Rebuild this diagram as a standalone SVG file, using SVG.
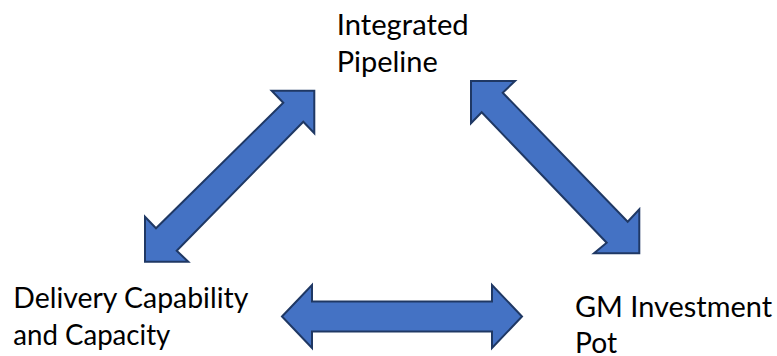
<svg xmlns="http://www.w3.org/2000/svg" width="777" height="356" viewBox="0 0 777 356">
  <style>
    .arrow { fill: #4472C4; stroke: #1F3864; stroke-width: 2; stroke-linejoin: miter; }
    .label { font-family: Lato, "Open Sans", "Liberation Sans", sans-serif; font-size: 28px; fill: #000000; }
  </style>
  <rect width="777" height="356" fill="#ffffff"/>

  <!-- double-headed block arrows linking the three nodes -->
  <g id="connectors">
    <polygon class="arrow" points="314.3,90.7 314.3,133.3 303.3,121.7 176.7,250.7 188.3,261.7 145,261.7 145,216.7 156,228.3 283.3,102.7 271.7,90.7"/>
    <polygon class="arrow" points="471,81 515,81 502.7,92.7 627.7,221.7 639.3,209.3 639.3,253.3 594,253.3 606.7,242.7 481.7,112.3 471,123.3"/>
    <polygon class="arrow" points="282,316.5 312,285 312,301.5 492,301.5 492,285 522,316.5 492,348 492,331.5 312,331.5 312,348"/>
  </g>

  <g id="integrated-pipeline">
    <text class="label" x="336.7" y="35" textLength="132" lengthAdjust="spacingAndGlyphs">Integrated</text>
    <text class="label" x="336.7" y="71.7" textLength="101" lengthAdjust="spacingAndGlyphs">Pipeline</text>
  </g>

  <g id="delivery-capability">
    <text class="label" x="13.3" y="308.3" textLength="235" lengthAdjust="spacingAndGlyphs">Delivery Capability</text>
    <text class="label" x="13.3" y="344.5" textLength="157" lengthAdjust="spacingAndGlyphs">and Capacity</text>
  </g>

  <g id="gm-investment-pot">
    <text class="label" x="575" y="316.7" textLength="197" lengthAdjust="spacingAndGlyphs">GM Investment</text>
    <text class="label" x="575" y="353.3" textLength="42" lengthAdjust="spacingAndGlyphs">Pot</text>
  </g>
</svg>
